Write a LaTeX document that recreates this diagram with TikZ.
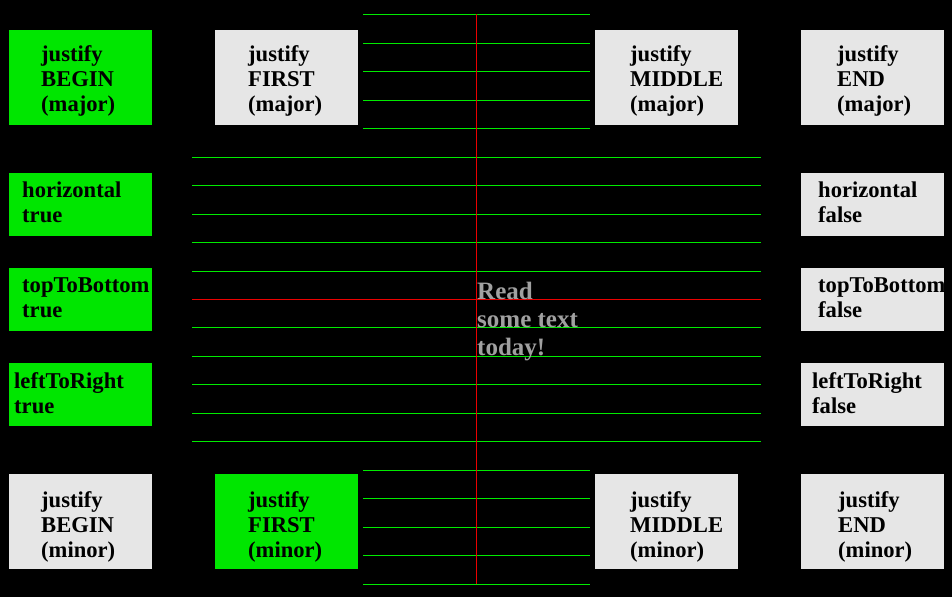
\documentclass[tikz,border=0pt]{standalone}
\usepackage{fontspec}
\setmainfont{Liberation Serif}[BoldFont={Liberation Serif Bold}]
\newfontfamily\tnrbold{Liberation Serif}[UprightFont={* Bold}]
\definecolor{boxgreen}{RGB}{0,230,0}
\definecolor{linegreen}{RGB}{0,235,0}
\definecolor{boxgrey}{RGB}{230,230,230}
\definecolor{txtgrey}{RGB}{160,160,160}
\definecolor{redline}{RGB}{235,0,0}
\newcommand\stackA[1]{\vtop{\baselineskip=25pt\lineskiplimit=-20pt\halign{##\hfil\cr#1\crcr}}}
\newcommand\stackB[1]{\vtop{\baselineskip=28pt\lineskiplimit=-20pt\halign{##\hfil\cr#1\crcr}}}
\begin{document}
\begin{tikzpicture}[x=1pt,y=-1pt,
  box/.style={rectangle, draw=none, inner sep=0pt, anchor=north west, minimum width=143pt},
  big/.style={box, minimum height=95pt},
  small/.style={box, minimum height=62.5pt},
  on/.style={fill=boxgreen},
  off/.style={fill=boxgrey},
  lbl/.style={anchor=base west, inner sep=0pt, font=\fontsize{22.6}{25}\selectfont\tnrbold, text=black},
  rule/.style={draw=linegreen, line width=1pt},
  redrule/.style={draw=redline, line width=1pt}]
\fill[black] (0,0) rectangle (952,597);
\useasboundingbox (0,0) rectangle (952,597);

% top row
\node[big,on]  (tb) at (9,30) {};
\node[big,off] (tf) at (215,30) {};
\node[big,off] (tm) at (595,30) {};
\node[big,off] (te) at (801,30) {};
\node[lbl] (ttb) at (41,61)  {\stackA{justify\cr BEGIN\cr (major)}};
\node[lbl] (ttf) at (248,61) {\stackA{justify\cr FIRST\cr (major)}};
\node[lbl] (ttm) at (630,61) {\stackA{justify\cr MIDDLE\cr (major)}};
\node[lbl] (tte) at (837,61) {\stackA{justify\cr END\cr (major)}};

% middle left
\node[small,on] (lh) at (9,173) {};
\node[small,on] (lt) at (9,268) {};
\node[small,on] (ll) at (9,363) {};
\node[lbl] (tlh) at (22,197) {\stackA{horizontal\cr true}};
\node[lbl] (tlt) at (22,292) {\stackA{topToBottom\cr true}};
\node[lbl] (tll) at (14,388) {\stackA{leftToRight\cr true}};

% middle right
\node[small,off] (rh) at (801,173) {};
\node[small,off] (rt) at (801,268) {};
\node[small,off] (rl) at (801,363) {};
\node[lbl] (trh) at (818,197) {\stackA{horizontal\cr false}};
\node[lbl] (trt) at (818,292) {\stackA{topToBottom\cr false}};
\node[lbl] (trl) at (812,388) {\stackA{leftToRight\cr false}};

% bottom row
\node[big,off] (bb) at (9,474) {};
\node[big,on]  (bf) at (215,474) {};
\node[big,off] (bm) at (595,474) {};
\node[big,off] (be) at (801,474) {};
\node[lbl] (tbb) at (41,507)  {\stackA{justify\cr BEGIN\cr (minor)}};
\node[lbl] (tbf) at (248,507) {\stackA{justify\cr FIRST\cr (minor)}};
\node[lbl] (tbm) at (630,507) {\stackA{justify\cr MIDDLE\cr (minor)}};
\node[lbl] (tbe) at (838,507) {\stackA{justify\cr END\cr (minor)}};

% top lines
\foreach \y in {14,43,71,100,128} \draw[rule] (363,\y) -- (590,\y);
% middle lines
\foreach \y in {157,185,214,242,271,327,356,384,413,441} \draw[rule] (192,\y) -- (761,\y);
% bottom lines
\foreach \y in {470,498,527,555,584} \draw[rule] (363,\y) -- (590,\y);
% red lines
\draw[redrule] (192,299) -- (761,299);
\draw[redrule] (476.5,14) -- (476.5,584);

% center text
\node[anchor=base west, inner sep=0pt, font=\fontsize{25}{28}\selectfont\tnrbold, text=txtgrey] (rd) at (477,299) {\stackB{Read\cr some text\cr today!}};
\end{tikzpicture}
\end{document}
